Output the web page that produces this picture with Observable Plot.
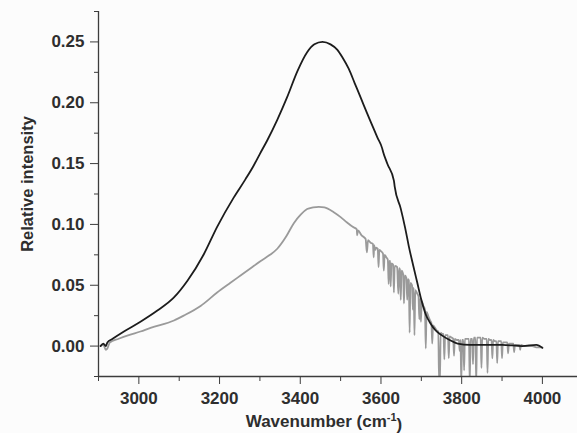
<!DOCTYPE html>
<html>
<head>
<meta charset="utf-8">
<script src="https://cdn.jsdelivr.net/npm/d3@7"></script>
<script src="https://cdn.jsdelivr.net/npm/@observablehq/plot@0.6"></script>
<style>
  html, body { margin: 0; padding: 0; background: #fcfcfc; }
  #chart svg { display: block; }
</style>
</head>
<body>
<div id="chart"></div>
<script>
// ---- Data ----
const yMajorTicks = [0, 0.05, 0.10, 0.15, 0.20, 0.25];
const yMinorTicks = [-0.025, 0.025, 0.075, 0.125, 0.175, 0.225, 0.275];
const xMajorTicks = [3000, 3200, 3400, 3600, 3800, 4000];
const xMinorTicks = [2900, 3100, 3300, 3500, 3700, 3900];

const yLabel = "Relative intensity";
const xLabel = "Wavenumber (cm";
const xLabelSup = "-1";

// Black series
const blackWavenumber = [
  2905, 2912, 2918, 2922, 2935, 2963, 3004, 3045, 3087, 3120,
  3161, 3194, 3235, 3264, 3284, 3300, 3318, 3343, 3368, 3393,
  3417, 3435, 3455, 3475, 3492, 3505, 3520, 3535, 3550, 3566,
  3591, 3603, 3605, 3616, 3632, 3634, 3649, 3660, 3669, 3680,
  3690, 3700, 3711, 3722, 3735, 3750, 3770, 3790, 3820, 3860,
  3900, 3950, 3985, 4000
];
const blackIntensity = [
  0.000, 0.002, 0.000, 0.003, 0.006, 0.012, 0.020, 0.029, 0.040, 0.0535,
  0.0755, 0.098, 0.122, 0.137, 0.148, 0.158, 0.169, 0.186, 0.205, 0.226,
  0.2415, 0.248, 0.250, 0.248, 0.2435, 0.237, 0.228, 0.216, 0.204, 0.191,
  0.1716, 0.1625, 0.1600, 0.1497, 0.136, 0.131, 0.113, 0.097, 0.082, 0.066,
  0.052, 0.038, 0.026, 0.019, 0.013, 0.009, 0.005, 0.002, 0.001, 0.001,
  0.001, 0.000, 0.001, -0.0015
];

// Grey series
const greyWavenumber = [
  2905, 2912, 2918, 2922, 2928, 2950, 2975, 3004, 3029, 3087,
  3111, 3153, 3194, 3227, 3252, 3277, 3302, 3325, 3343, 3365,
  3384, 3401, 3417, 3432, 3446, 3460, 3483, 3500, 3516, 3530,
  3540, 3541, 3543, 3552, 3562, 3565, 3568, 3574, 3580, 3582,
  3583, 3586, 3588, 3592, 3594, 3596, 3600, 3605, 3607, 3609,
  3613, 3617, 3619, 3621, 3623, 3624, 3626, 3630, 3632, 3634,
  3640, 3643, 3645, 3647, 3649, 3651, 3655, 3657, 3659, 3663,
  3665, 3667, 3669, 3671, 3673, 3677, 3679, 3681, 3683, 3685,
  3690, 3693, 3695, 3697, 3699, 3701, 3705, 3709, 3711, 3713,
  3718, 3722, 3725, 3727, 3729, 3734, 3738, 3742, 3744, 3746,
  3748, 3752, 3755, 3757, 3759, 3763, 3766, 3768, 3770, 3775,
  3779, 3781, 3783, 3788, 3793, 3795, 3797, 3799, 3801, 3804,
  3806, 3808, 3812, 3818, 3820, 3822, 3826, 3828, 3830, 3834,
  3836, 3838, 3843, 3847, 3849, 3851, 3856, 3862, 3864, 3866,
  3870, 3874, 3876, 3878, 3883, 3886, 3888, 3890, 3895, 3898,
  3900, 3902, 3908, 3913, 3915, 3917, 3923, 3928, 3930, 3932,
  3940, 3943, 3945, 3947, 3955, 3965, 3975, 3985, 4000
];
const greyIntensity = [
  0.000, 0.001, -0.003, -0.002, 0.003, 0.006, 0.009, 0.012, 0.015, 0.021,
  0.025, 0.033, 0.044, 0.052, 0.058, 0.064, 0.070, 0.075, 0.080, 0.090,
  0.101, 0.108, 0.1126, 0.114, 0.1145, 0.114, 0.110, 0.106, 0.1016, 0.098,
  0.096, 0.091, 0.095, 0.091, 0.088, 0.077, 0.087, 0.085, 0.084, 0.073,
  0.083, 0.079, 0.081, 0.080, 0.065, 0.079, 0.078, 0.076, 0.062, 0.075,
  0.073, 0.071, 0.051, 0.070, 0.070, 0.049, 0.068, 0.067, 0.044, 0.066,
  0.065, 0.043, 0.064, 0.063, 0.038, 0.062, 0.059, 0.035, 0.058, 0.056,
  0.038, 0.055, 0.054, 0.011, 0.052, 0.050, 0.030, 0.048, 0.009, 0.046,
  0.043, 0.041, 0.022, 0.039, 0.020, 0.037, 0.033, 0.030, -0.002, 0.028,
  0.024, 0.021, 0.019, 0.002, 0.017, 0.015, 0.013, 0.012, -0.030, -0.030,
  0.011, 0.010, 0.010, -0.011, 0.009, 0.009, 0.009, -0.010, 0.008, 0.007,
  0.006, -0.008, 0.006, 0.005, 0.005, -0.004, 0.005, -0.030, 0.005, 0.005,
  -0.020, 0.006, 0.006, 0.006, -0.030, 0.006, 0.006, -0.015, 0.007, 0.007,
  -0.030, 0.007, 0.007, 0.007, -0.018, 0.007, 0.006, 0.006, -0.022, 0.006,
  0.005, 0.005, -0.010, 0.005, 0.004, 0.004, -0.014, 0.004, 0.004, 0.004,
  -0.010, 0.003, 0.003, 0.003, -0.006, 0.002, 0.002, 0.002, -0.005, 0.001,
  0.001, 0.001, -0.003, 0.001, 0.000, 0.000, 0.000, -0.001, -0.001
];

// ---- Build tables ----
const black = blackWavenumber.map((w, i) => ({w, v: blackIntensity[i]}));
const grey = greyWavenumber.map((w, i) => ({w, v: greyIntensity[i]}));

const axisColor = "#3c3c3c";
const textColor = "#2e2e2e";
const font = "'Liberation Sans', Arial, Helvetica, sans-serif";

const chart = Plot.plot({
  width: 577,
  height: 433,
  marginLeft: 98,
  marginRight: 0,
  marginTop: 11,
  marginBottom: 57,
  style: {background: "#fcfcfc", fontFamily: font, color: textColor},
  x: {domain: [2900, 4087], label: null},
  y: {domain: [-0.025, 0.275], label: null},
  marks: [
    Plot.line(grey, {x: "w", y: "v", stroke: "#9a9a9a", strokeWidth: 1.8, curve: "monotone-x", clip: true}),
    Plot.line(black, {x: "w", y: "v", stroke: "#1c1c1c", strokeWidth: 1.8, curve: "monotone-x", clip: true}),
    Plot.ruleX([2900], {stroke: axisColor, strokeWidth: 1.3}),
    Plot.ruleY([-0.025], {stroke: axisColor, strokeWidth: 1.3}),
    Plot.axisY(yMajorTicks, {tickSize: 8, tickPadding: 6, tickFormat: d3.format(".2f"),
      fontSize: 17, fontWeight: "bold", stroke: axisColor, fill: textColor, label: null}),
    Plot.axisY(yMinorTicks, {tickSize: 4, tickFormat: () => "", stroke: axisColor, label: null}),
    Plot.axisX(xMajorTicks, {tickSize: 8, tickPadding: 7, tickFormat: d => String(d),
      fontSize: 17, fontWeight: "bold", stroke: axisColor, fill: textColor, label: null}),
    Plot.axisX(xMinorTicks, {tickSize: 5, tickFormat: () => "", stroke: axisColor, label: null}),
    Plot.text([yLabel], {text: d => d, frameAnchor: "left", textAnchor: "middle", lineAnchor: "middle",
      rotate: -90, dx: -71, dy: -10, fontSize: 16.5, fontWeight: "bold", fill: textColor}),
    Plot.text([xLabel], {text: d => d, frameAnchor: "bottom", textAnchor: "middle", lineAnchor: "middle",
      dx: -14, dy: 45, fontSize: 17, fontWeight: "bold", fill: textColor, className: "xlabel"})
  ]
});

document.getElementById("chart").appendChild(chart);

// add superscript and closing parenthesis to the x label as real text
d3.select(chart).selectAll("g.xlabel text").each(function() {
  const t = d3.select(this);
  t.append("tspan").attr("font-size", 11).attr("dy", "-0.5em").text(xLabelSup);
  t.append("tspan").attr("dy", "0.5em").text(")");
});
</script>
</body>
</html>
